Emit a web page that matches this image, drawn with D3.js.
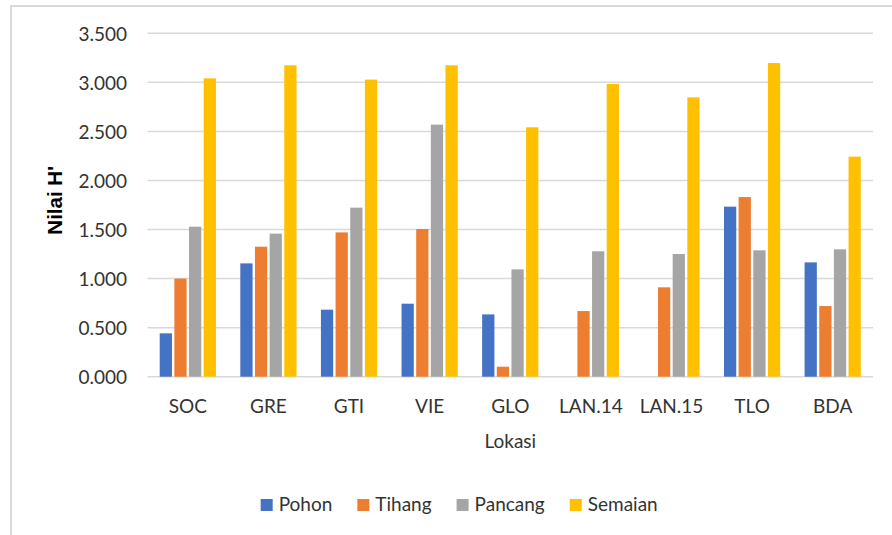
<!DOCTYPE html>
<html>
<head>
<meta charset="utf-8">
<script src="https://cdn.jsdelivr.net/npm/d3@7"></script>
<style>
  html, body { margin: 0; padding: 0; background: #ffffff; }
  svg { display: block; }
  text { font-family: Lato, "Open Sans", sans-serif; fill: #333333; }
</style>
</head>
<body>
<svg id="chart" width="892" height="535"></svg>
<script>
// ---- data ----
const categories = ["SOC", "GRE", "GTI", "VIE", "GLO", "LAN.14", "LAN.15", "TLO", "BDA"];
const seriesNames = ["Pohon", "Tihang", "Pancang", "Semaian"];
const pohon   = [0.442, 1.155, 0.683, 0.744, 0.635, 0, 0, 1.733, 1.165];
const tihang  = [1.000, 1.325, 1.471, 1.505, 0.102, 0.669, 0.911, 1.831, 0.720];
const pancang = [1.529, 1.458, 1.723, 2.569, 1.094, 1.278, 1.250, 1.288, 1.298];
const semaian = [3.041, 3.174, 3.028, 3.174, 2.542, 2.983, 2.847, 3.197, 2.243];
const yTicks  = [0, 0.5, 1, 1.5, 2, 2.5, 3, 3.5];
const colors  = ["#4472C4", "#ED7D31", "#A5A5A5", "#FFC000"];
const seriesValues = [pohon, tihang, pancang, semaian];

const svg = d3.select("#chart");

// chart border (light gray, partially visible)
svg.append("path")
  .attr("d", "M11,535 L11,6 L892,6")
  .attr("fill", "none")
  .attr("stroke", "#d9d9d9")
  .attr("stroke-width", 2);

const plotLeft = 147.5, plotRight = 873, plotTop = 33.3, plotBottom = 376.7;

const y = d3.scaleLinear().domain([0, 3.5]).range([plotBottom, plotTop]);
const x0 = d3.scaleBand().domain(categories).range([plotLeft, plotRight]).padding(0);
const groupPad = 11;
const x1 = d3.scaleBand().domain(seriesNames)
  .range([groupPad, x0.bandwidth() - groupPad]).padding(0);

// gridlines
svg.append("g").selectAll("line").data(yTicks).join("line")
  .attr("x1", plotLeft).attr("x2", plotRight)
  .attr("y1", d => y(d)).attr("y2", d => y(d))
  .attr("stroke", "#d9d9d9").attr("stroke-width", 1.5);

// y axis labels
const fmt = d3.format(".3f");
svg.append("g").selectAll("text").data(yTicks).join("text")
  .attr("x", 127).attr("y", d => y(d) + 7.3)
  .attr("text-anchor", "end")
  .style("font-size", "19px")
  .text(d => fmt(d));

// bars
const inset = 1.2;
const barData = [];
categories.forEach((c, i) => {
  seriesNames.forEach((s, j) => {
    barData.push({ cat: c, series: s, value: seriesValues[j][i], color: colors[j] });
  });
});
svg.append("g").selectAll("rect").data(barData.filter(d => d.value > 0)).join("rect")
  .attr("x", d => x0(d.cat) + x1(d.series) + inset)
  .attr("width", x1.bandwidth() - 2 * inset)
  .attr("y", d => y(d.value))
  .attr("height", d => y(0) - y(d.value))
  .attr("fill", d => d.color);

// category labels
svg.append("g").selectAll("text").data(categories).join("text")
  .attr("x", d => x0(d) + x0.bandwidth() / 2)
  .attr("y", 413.3)
  .attr("text-anchor", "middle")
  .style("font-size", "19px")
  .text(d => d);

// x title
svg.append("text")
  .attr("x", (plotLeft + plotRight) / 2).attr("y", 447.7)
  .attr("text-anchor", "middle")
  .style("font-size", "19px")
  .text("Lokasi");

// y title
svg.append("text")
  .attr("transform", "translate(61.5,200.3) rotate(-90)")
  .attr("text-anchor", "middle")
  .style("font-family", "'Liberation Sans', Arial, sans-serif")
  .style("font-weight", "bold")
  .style("font-size", "20.5px")
  .style("fill", "#000")
  .text("Nilai H'");

// legend
const legend = svg.append("g");
const items = legend.selectAll("g").data(seriesNames).join("g");
items.append("rect").attr("width", 12).attr("height", 12)
  .attr("y", 499).attr("fill", (d, i) => colors[i]);
items.append("text").attr("x", 18).attr("y", 511)
  .style("font-size", "19px").text(d => d);
const widths = [];
items.each(function() {
  const w = d3.select(this).select("text").node().getComputedTextLength();
  widths.push(18 + w);
});
const gap = 25;
const total = d3.sum(widths) + gap * (widths.length - 1);
let start = 459.2 - total / 2;
items.attr("transform", (d, i) => {
  const t = `translate(${start},0)`;
  start += widths[i] + gap;
  return t;
});
</script>
</body>
</html>
